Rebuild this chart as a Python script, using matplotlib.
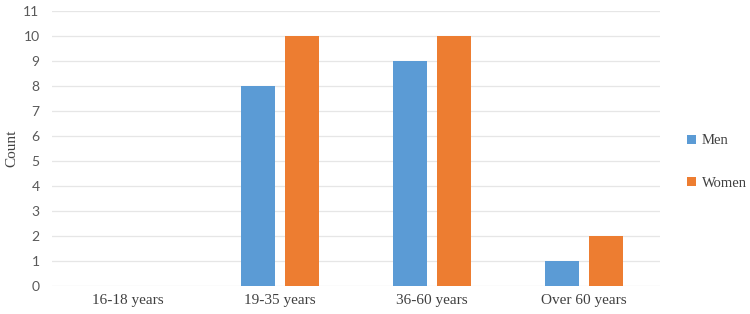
import numpy as np
import matplotlib.pyplot as plt

# Datos del gráfico
categorias = ['16-18 years', '19-35 years', '36-60 years', 'Over 60 years']
hombres = [0, 8, 9, 1]
mujeres = [0, 10, 10, 2]
etiquetas = ['Men', 'Women']

azul = '#5b9bd5'
naranja = '#ed7d31'

fig = plt.figure(figsize=(7.5, 3.14), dpi=100)
ax = fig.add_axes([52 / 750, 28 / 314, 608 / 750, 275 / 314])

x = np.arange(len(categorias))
ancho = 0.224
desp = 0.143

ax.bar(x - desp, hombres, ancho, color=azul, label=etiquetas[0], zorder=3)
ax.bar(x + desp, mujeres, ancho, color=naranja, label=etiquetas[1], zorder=3)

ax.set_xlim(-0.5, len(categorias) - 0.5)
ax.set_ylim(0, 11)
ax.set_yticks(range(0, 12))
ax.set_xticks(x)
ax.set_xticklabels(categorias, family='Liberation Serif', fontsize=11, color='#404040')
for t in ax.get_yticklabels():
    t.set_family('Lato')
    t.set_fontsize(10)
    t.set_color('#595959')

ax.grid(axis='y', color='#e6e6e6', linewidth=0.9, zorder=0)
for s in ax.spines.values():
    s.set_visible(False)
ax.tick_params(axis='both', length=0)
ax.tick_params(axis='y', pad=9)
ax.tick_params(axis='x', pad=6)

ax.set_ylabel('Count', family='Liberation Serif', fontsize=11, color='#404040')
ax.yaxis.set_label_coords(-0.056, 0.5)

leg = fig.legend(loc='center left', bbox_to_anchor=(674 / 750, 1 - 162 / 314),
                 frameon=False, handlelength=0.6, handleheight=0.6, handletextpad=0.4,
                 labelspacing=2.0, prop={'family': 'Liberation Serif', 'size': 10.5})
for t in leg.get_texts():
    t.set_color('#404040')

fig.savefig('out.png', dpi=100)
